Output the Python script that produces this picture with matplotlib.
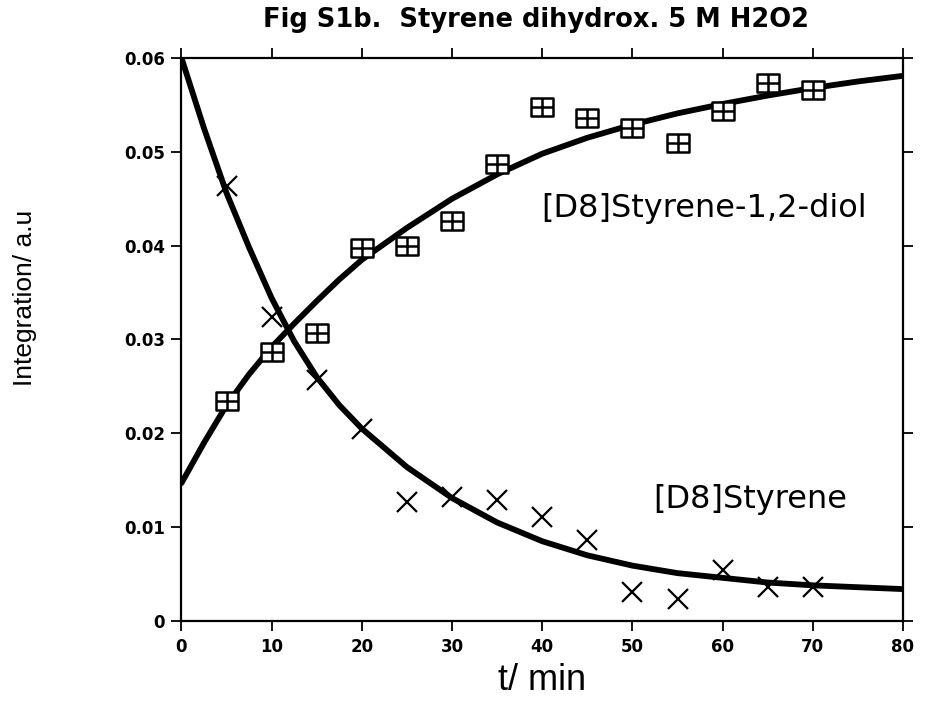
import numpy as np
import matplotlib
matplotlib.use("Agg")
import matplotlib.pyplot as plt
from matplotlib.path import Path

# measured points (t in min, integration in a.u.)
t_pts = [5, 10, 15, 20, 25, 30, 35, 40, 45, 50, 55, 60, 65, 70]
styrene_pts = [0.0464, 0.0324, 0.0257, 0.0205, 0.0127, 0.0132, 0.0129,
               0.0111, 0.0086, 0.0031, 0.0023, 0.0054, 0.0036, 0.0036]
diol_pts = [0.0234, 0.0287, 0.0307, 0.0398, 0.0400, 0.0426, 0.0487,
            0.0548, 0.0536, 0.0525, 0.0509, 0.0544, 0.0573, 0.0566]

# fitted curves
t_fit = [0, 2.5, 5, 7.5, 10, 12.5, 15, 17.5, 20, 25, 30, 35, 40, 45, 50,
         55, 60, 65, 70, 75, 80]
styrene_fit = [0.0600, 0.0525, 0.0456, 0.0398, 0.0344, 0.0298, 0.0260,
               0.0230, 0.0205, 0.0164, 0.0131, 0.0105, 0.0085, 0.0070,
               0.0059, 0.0051, 0.0046, 0.0041, 0.0038, 0.0036, 0.0034]
diol_fit = [0.0147, 0.0190, 0.0230, 0.0263, 0.0292, 0.0317, 0.0341,
            0.0364, 0.0385, 0.0419, 0.0450, 0.0476, 0.0498, 0.0515,
            0.0529, 0.0541, 0.0551, 0.0560, 0.0568, 0.0575, 0.0581]

x_ticks = [0, 10, 20, 30, 40, 50, 60, 70, 80]
y_ticks = [0, 0.01, 0.02, 0.03, 0.04, 0.05, 0.06]
y_ticklabels = ["0", "0.01", "0.02", "0.03", "0.04", "0.05", "0.06"]

# rectangle with a cross inside, used for the diol points
h = 0.78
box_verts = [(-1, -h), (1, -h), (1, h), (-1, h), (-1, -h),
             (0, -h), (0, h), (-1, 0), (1, 0)]
box_codes = [Path.MOVETO, Path.LINETO, Path.LINETO, Path.LINETO, Path.CLOSEPOLY,
             Path.MOVETO, Path.LINETO, Path.MOVETO, Path.LINETO]
box_marker = Path(box_verts, box_codes)

label_family = ["Liberation Sans", "DejaVu Sans"]
bold_family = ["DejaVu Sans"]

fig = plt.figure(figsize=(9.25, 7.17), dpi=100)
ax = fig.add_axes([0.1962, 0.1339, 0.7800, 0.7852])

ax.plot(t_fit, styrene_fit, color="black", lw=4.2, solid_joinstyle="round",
        solid_capstyle="round", zorder=2)
ax.plot(t_fit, diol_fit, color="black", lw=4.2, solid_joinstyle="round",
        solid_capstyle="round", zorder=2)

ax.plot(t_pts, styrene_pts, ls="none", marker="x", ms=15, mew=1.6,
        color="black", zorder=3)
ax.plot(t_pts, diol_pts, ls="none", marker=box_marker, ms=16, mew=1.8,
        mec="black", mfc="white", zorder=3)

ax.text(39.9, 0.0440, "[D8]Styrene-1,2-diol", fontsize=23,
        family=bold_family, va="center", ha="left")
ax.text(52.3, 0.0129, "[D8]Styrene", fontsize=23,
        family=bold_family, va="center", ha="left")

ax.set_xlim(0, 80)
ax.set_ylim(0, 0.06)
ax.set_xticks(x_ticks)
ax.set_yticks(y_ticks)
ax.set_yticklabels(y_ticklabels)
ax.tick_params(axis="both", which="major", direction="out", length=7,
               width=1.3, top=True, right=True, labeltop=False,
               labelright=False, labelsize=12, pad=5)
for lab in ax.get_xticklabels() + ax.get_yticklabels():
    lab.set_fontweight("bold")
    lab.set_family(bold_family)
for spine in ax.spines.values():
    spine.set_linewidth(1.6)

ax.set_xlabel("t/ min", fontsize=26, family=label_family, labelpad=5)
ax.set_ylabel("Integration/ a.u", fontsize=19, family=label_family)
ax.yaxis.set_label_coords(-0.200, 0.574)

fig.text(0.579, 0.972, "Fig S1b.  Styrene dihydrox. 5 M H2O2", fontsize=18.5,
         fontweight="bold", family=bold_family, ha="center", va="center")

fig.savefig("out.png", dpi=100)
